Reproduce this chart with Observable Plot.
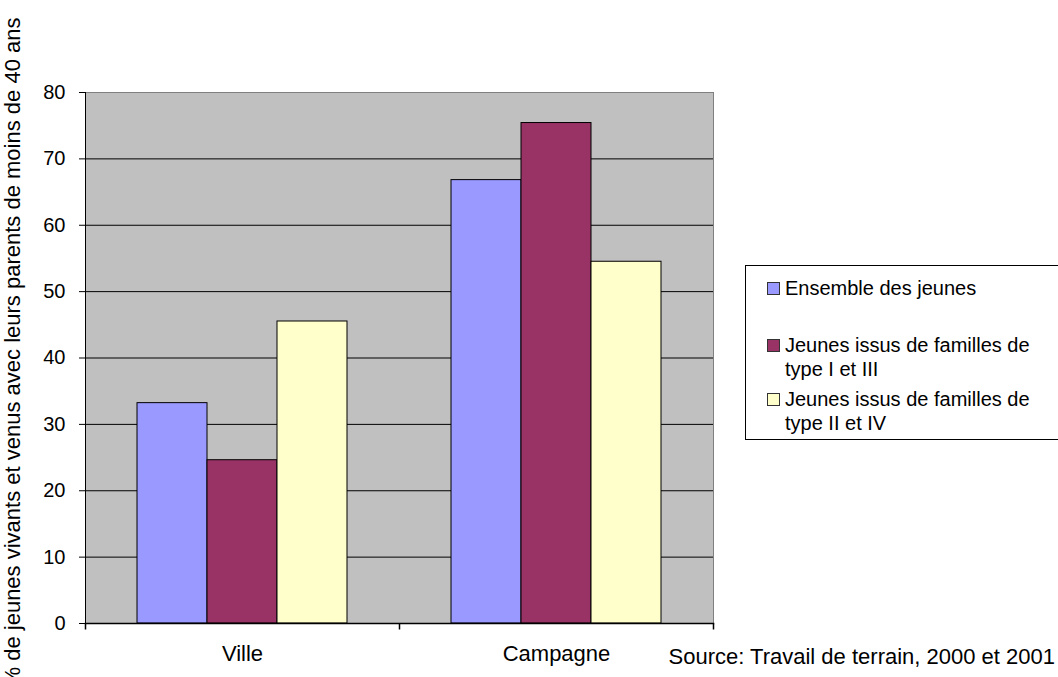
<!DOCTYPE html>
<html><head><meta charset="utf-8">
<script src="https://cdn.jsdelivr.net/npm/d3@7"></script>
<script src="https://cdn.jsdelivr.net/npm/@observablehq/plot@0.6"></script>
<style>
html,body{margin:0;padding:0;overflow:hidden;background:#fff;}
#wrap{position:relative;width:1058px;height:677px;font-family:"Liberation Sans",Arial,sans-serif;color:#000;}
#wrap svg{position:absolute;left:0;top:0;}
.ytitle{position:absolute;left:-337px;top:339px;width:700px;height:26px;line-height:26px;font-size:22px;text-align:center;white-space:nowrap;transform:rotate(-90deg);}
.legend{position:absolute;left:745px;top:265px;width:340px;height:175px;border:1px solid #000;background:#fff;box-sizing:border-box;}
.lg-line{position:absolute;left:39px;height:24px;line-height:24px;font-size:20px;white-space:nowrap;}
.sw{position:absolute;left:21px;width:11px;height:11px;border:1px solid #333;}
.source{position:absolute;right:3px;top:644px;height:26px;line-height:26px;font-size:22px;white-space:nowrap;}
</style></head><body><div id="wrap"></div>
<script>
const categories = ["Ville", "Campagne"];
const series = ["Ensemble des jeunes", "Jeunes issus de familles de type I et III", "Jeunes issus de familles de type II et IV"];
const villeValues = [33.2, 24.6, 45.5];
const campagneValues = [66.8, 75.4, 54.5];
const seriesColors = ["#9999FF", "#993366", "#FFFFCC"];
const yTicks = [0, 10, 20, 30, 40, 50, 60, 70, 80];
const gridTicks = [10, 20, 30, 40, 50, 60, 70];
const yTitle = "% de jeunes vivants et venus avec leurs parents de moins de 40 ans";
const sourceText = "Source: Travail de terrain, 2000 et 2001";
const legendLabels = [["Ensemble des jeunes"], ["Jeunes issus de familles de", "type I et III"], ["Jeunes issus de familles de", "type II et IV"]];

const data = [
  ...series.map((s, i) => ({cat: categories[0], series: s, value: villeValues[i]})),
  ...series.map((s, i) => ({cat: categories[1], series: s, value: campagneValues[i]}))
];

const tickSym = {draw(ctx) { ctx.moveTo(0, 0); ctx.lineTo(0, 6); }};

const chart = Plot.plot({
  width: 1058, height: 677,
  marginTop: 92, marginBottom: 54, marginLeft: 85, marginRight: 345,
  style: {fontFamily: '"Liberation Sans", Arial, sans-serif', fontSize: "20px", color: "black", background: "transparent"},
  fx: {domain: categories, padding: 0, label: null, round: false},
  x: {domain: series, paddingInner: 0, paddingOuter: 0.743, round: false, axis: null},
  y: {domain: [0, 80], label: null},
  color: {domain: series, range: seriesColors},
  marks: [
    Plot.frame({facet: "super", fill: "#C0C0C0", stroke: "none"}),
    Plot.gridY(gridTicks, {stroke: "black", strokeOpacity: 1}),
    Plot.barY(data, {fx: "cat", x: "series", y: "value", fill: "series", stroke: "black", strokeWidth: 1}),
    Plot.frame({facet: "super", stroke: "#808080"}),
    Plot.frame({facet: "super", anchor: "left", stroke: "black"}),
    Plot.frame({facet: "super", anchor: "bottom", stroke: "black", strokeWidth: 1.5}),
    Plot.axisY(yTicks, {tickSize: 6, tickPadding: 14, fontSize: 20, label: null}),
    Plot.axisFx({anchor: "bottom", tickSize: 0, tickPadding: 22, fontSize: 22, label: null}),
    Plot.dot([0], {frameAnchor: "bottom-left", symbol: tickSym, fill: "none", stroke: "black"}),
    Plot.dot([0], {facet: "super", frameAnchor: "bottom-right", symbol: tickSym, fill: "none", stroke: "black"})
  ]
});

const wrap = document.getElementById("wrap");
wrap.appendChild(chart);

const yt = document.createElement("div");
yt.className = "ytitle";
yt.textContent = yTitle;
wrap.appendChild(yt);

const lg = document.createElement("div");
lg.className = "legend";
const entryTops = [[10], [67, 91], [121, 145]];
legendLabels.forEach((lines, i) => {
  const sw = document.createElement("div");
  sw.className = "sw";
  sw.style.background = seriesColors[i];
  sw.style.top = (entryTops[i][0] + 6) + "px";
  lg.appendChild(sw);
  lines.forEach((t, j) => {
    const d = document.createElement("div");
    d.className = "lg-line";
    d.style.top = entryTops[i][j] + "px";
    d.textContent = t;
    lg.appendChild(d);
  });
});
wrap.appendChild(lg);

const src = document.createElement("div");
src.className = "source";
src.textContent = sourceText;
wrap.appendChild(src);
</script></body></html>
